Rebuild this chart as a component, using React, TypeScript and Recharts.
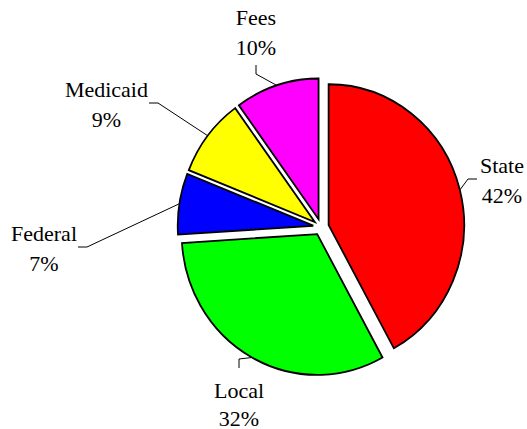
import { PieChart, Pie } from "recharts";

// --- Data ---
const SOURCES = ["State", "Local", "Federal", "Medicaid", "Fees"];
const SHARES = [42, 32, 7, 9, 10];
const COLORS = ["#ff0000", "#00ff00", "#0000ff", "#ffff00", "#ff00ff"];

// --- Layout ---
const WIDTH = 527;
const HEIGHT = 429;
const CX = 321;
const CY = 227;
const RADIUS = 138;
const EXPLODE = 8;
// the original pie is a little taller than wide
const SX = 0.982;
const SY = 1.02;
const FONT_SIZE = 22;
const FONT = "Liberation Serif, Times New Roman, serif";

// end of each leader line, and which side of it the text sits on
const LABEL_ANCHORS: [number, number, string][] = [
  [477, 179, "right"],
  [239, 368, "bottom"],
  [78, 247, "left"],
  [149, 103, "left"],
  [256, 65, "top"],
];

const total = SHARES.reduce((a, b) => a + b, 0);

let ctx: CanvasRenderingContext2D | null = null;
function textWidth(s: string) {
  if (!ctx) ctx = document.createElement("canvas").getContext("2d");
  if (!ctx) return s.length * FONT_SIZE * 0.5;
  ctx.font = `${FONT_SIZE}px "Liberation Serif"`;
  return ctx.measureText(s).width;
}

const textStyle = { fontFamily: FONT, fontSize: FONT_SIZE, fill: "#000" };

const renderLabel = (i: number) => (props: any) => {
  const { cx, cy, midAngle, outerRadius } = props;
  const rad = (-midAngle * Math.PI) / 180;
  const ax = CX + (cx + outerRadius * Math.cos(rad) - CX) * SX;
  const ay = CY + (cy + outerRadius * Math.sin(rad) - CY) * SY;
  const [lx, ly, side] = LABEL_ANCHORS[i];
  const stub = 9;
  let ex = lx;
  let ey = ly;
  if (side === "right") ex = lx - stub;
  if (side === "left") ex = lx + stub;
  if (side === "top") ey = ly + stub;
  if (side === "bottom") ey = ly - stub;

  const line1 = SOURCES[i];
  const line2 = `${SHARES[i]}%`;
  const w = Math.max(textWidth(line1), textWidth(line2));
  let tx = lx;
  let y1 = ly - 14;
  let y2 = ly + 16;
  if (side === "right") tx = lx + 3 + w / 2;
  if (side === "left") tx = lx - 1 - w / 2;
  if (side === "top") {
    y1 = ly - 48;
    y2 = ly - 18;
  }
  if (side === "bottom") {
    y1 = ly + 22;
    y2 = ly + 50;
  }

  return (
    <g>
      <polyline
        points={`${ax},${ay} ${ex},${ey} ${lx},${ly}`}
        fill="none"
        stroke="#000"
        strokeWidth={1}
      />
      <text x={tx} y={y1} textAnchor="middle" dominantBaseline="central" style={textStyle}>
        {line1}
      </text>
      <text x={tx} y={y2} textAnchor="middle" dominantBaseline="central" style={textStyle}>
        {line2}
      </text>
    </g>
  );
};

export default function App() {
  let cum = 0;
  const slices = SHARES.map((v, i) => {
    const start = 90 - (360 * cum) / total;
    const end = 90 - (360 * (cum + v)) / total;
    const mid = ((start + end) / 2) * (Math.PI / 180);
    cum += v;
    return {
      i,
      start,
      end,
      cx: CX + EXPLODE * Math.cos(mid),
      cy: CY - EXPLODE * Math.sin(mid),
      data: [{ name: SOURCES[i], value: v }],
    };
  });

  return (
    <div style={{ position: "absolute", left: 0, top: 0, background: "#fff", fontFamily: FONT }}>
      <style>{`
        .recharts-pie-sector {
          transform-origin: ${CX}px ${CY}px;
          transform: scale(${SX}, ${SY});
        }
      `}</style>
      <PieChart width={WIDTH} height={HEIGHT} margin={{ top: 0, right: 0, bottom: 0, left: 0 }}>
        {slices.map((s) => (
          <Pie
            key={SOURCES[s.i]}
            data={s.data}
            dataKey="value"
            nameKey="name"
            cx={s.cx}
            cy={s.cy}
            outerRadius={RADIUS}
            startAngle={s.start}
            endAngle={s.end}
            fill={COLORS[s.i]}
            stroke="#000"
            strokeWidth={1.8}
            label={renderLabel(s.i)}
            labelLine={false}
            isAnimationActive={false}
          />
        ))}
      </PieChart>
    </div>
  );
}
